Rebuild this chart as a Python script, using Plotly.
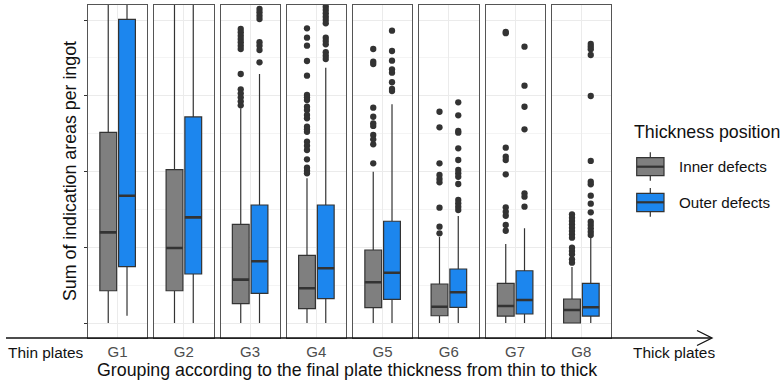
import plotly.graph_objects as go
from plotly.subplots import make_subplots

# ---------------- data ----------------
groups = ["G1", "G2", "G3", "G4", "G5", "G6", "G7", "G8"]
series_names = ["Inner defects", "Outer defects"]

inner_q1 = [42.6, 42.6, 25.5, 18.9, 20.2, 9.6, 9.2, 0.0]
inner_med = [119.7, 99.0, 57.2, 45.8, 53.7, 21.5, 22.4, 17.2]
inner_q3 = [251.7, 202.4, 130.3, 89.4, 96.4, 51.5, 52.4, 31.7]
inner_lo = [0.0, 0.0, 0.0, 0.0, 0.0, 0.0, 0.0, 0.0]
inner_hi = [520.0, 480.0, 283.4, 191.0, 199.7, 113.5, 104.3, 73.9]
inner_out = [
    [],
    [],
    [388.1, 383.8, 379.3, 374.9, 370.6, 366.1, 361.7, 328.7, 308.5, 303.2, 297.9, 292.7, 287.4],
    [389.0, 376.6, 366.1, 345.9, 326.5, 301.0, 297.9, 294.4, 285.5, 281.2, 274.6, 270.2,
     259.1, 255.7, 252.5, 239.3, 234.1, 228.4, 216.1, 205.0, 201.1, 197.6],
    [361.7, 345.0, 341.9, 284.2, 272.3, 263.6, 260.1, 248.2, 242.5, 235.9, 210.8],
    [278.9, 258.3, 210.8, 195.4, 190.1, 185.7, 152.2, 127.1, 118.4],
    [384.4, 382.6, 231.4, 219.5, 215.2, 196.3, 152.7, 146.9, 141.6, 129.4, 121.8],
    [143.5, 139.0, 134.7, 130.3, 125.8, 121.4, 117.1, 112.6, 99.4, 95.0, 90.7, 84.1, 79.6],
]

outer_q1 = [74.3, 64.7, 39.2, 32.1, 31.3, 20.7, 11.9, 9.2]
outer_med = [168.0, 139.5, 81.5, 72.2, 66.4, 40.5, 30.4, 20.7]
outer_q3 = [400.9, 272.0, 155.8, 155.8, 134.3, 71.3, 69.0, 52.4]
outer_lo = [9.6, 0.0, 0.0, 0.0, 0.0, 0.0, 0.0, 0.0]
outer_hi = [600.0, 560.0, 328.7, 337.0, 288.7, 141.3, 125.0, 113.9]
outer_out = [
    [],
    [],
    [414.5, 410.2, 405.7, 401.3, 370.6, 366.1, 360.4, 344.1],
    [417.6, 413.2, 408.8, 404.4, 400.0, 395.6, 376.6, 372.3, 367.9, 357.4, 352.9, 348.5],
    [385.9, 359.1, 346.3, 334.9, 330.4, 317.8, 308.9, 306.3],
    [291.3, 274.2, 253.5, 251.2, 230.6, 215.2, 202.0, 197.6, 193.1, 183.5, 162.4, 158.0,
     153.5, 149.2],
    [364.8, 313.3, 285.5, 255.7, 171.2, 166.7, 153.5],
    [368.3, 364.8, 361.3, 353.8, 299.7, 213.9, 186.5, 183.1, 168.1, 157.5, 146.1, 133.7,
     129.4, 125.0, 120.5, 116.2],
]

y_ticks = [0, 100, 200, 300, 400]

# ---------------- styling ----------------
FONT = "Liberation Sans, Arial, sans-serif"
fills = {"Inner defects": "#7F7F7F", "Outer defects": "#1C86EE"}
EDGE = "#333333"
offsets = {"Inner defects": -0.19, "Outer defects": 0.19}
BOX_W = 0.34

W, H = 784, 386
L, R, T, B = 88, 611, 5, 338  # plot area in pixels


def px(xp):
    return (xp - L) / (R - L)


def py(yp):
    return (B - yp) / (B - T)


fig = make_subplots(rows=1, cols=8, shared_yaxes=True,
                    horizontal_spacing=7.0 / (R - L))

stats = {
    "Inner defects": (inner_q1, inner_med, inner_q3, inner_lo, inner_hi, inner_out),
    "Outer defects": (outer_q1, outer_med, outer_q3, outer_lo, outer_hi, outer_out),
}

for i, g in enumerate(groups):
    col = i + 1
    for s in series_names:
        q1, med, q3, lo, hi, out = stats[s]
        xc = 1 + offsets[s]
        fig.add_trace(go.Box(
            x=[xc], q1=[q1[i]], median=[med[i]], q3=[q3[i]],
            lowerfence=[lo[i]], upperfence=[hi[i]],
            width=BOX_W, whiskerwidth=0, boxpoints=False,
            fillcolor=fills[s], line=dict(color=EDGE, width=1.2),
            name=s, showlegend=False, hoverinfo="skip",
        ), row=1, col=col)
        # thicker median line (ggplot style)
        fig.add_trace(go.Scatter(
            x=[xc - BOX_W / 2, xc + BOX_W / 2], y=[med[i], med[i]],
            mode="lines", line=dict(color=EDGE, width=2.6),
            showlegend=False, hoverinfo="skip",
        ), row=1, col=col)
        if out[i]:
            fig.add_trace(go.Scatter(
                x=[xc] * len(out[i]), y=out[i], mode="markers",
                marker=dict(color=EDGE, size=6.3),
                showlegend=False, hoverinfo="skip",
            ), row=1, col=col)

    fig.update_xaxes(
        range=[0.4, 1.6], tickvals=[1], ticktext=[g], ticks="",
        showgrid=True, gridcolor="#EBEBEB", gridwidth=1,
        showline=True, mirror=True, linecolor="#555555", linewidth=1.2,
        zeroline=False, tickfont=dict(family=FONT, size=15, color="#4D4D4D"),
        row=1, col=col,
    )
    fig.update_yaxes(
        range=[-19.8, 419.8], tickvals=y_ticks, showticklabels=False,
        showgrid=True, gridcolor="#EBEBEB", gridwidth=1,
        minor=dict(dtick=50, tick0=50, showgrid=True, gridcolor="#F4F4F4", gridwidth=0.6),
        showline=True, mirror=True, linecolor="#555555", linewidth=1.2,
        zeroline=False, ticks="outside" if col == 1 else "",
        ticklen=3, tickcolor="#333333", tickwidth=1,
        row=1, col=col,
    )

shapes = []
# horizontal arrow along bottom
shapes.append(dict(type="line", xref="paper", yref="paper",
                   x0=px(6), x1=px(711), y0=py(338), y1=py(338),
                   line=dict(color="#111111", width=1.3)))
shapes.append(dict(type="path", xref="paper", yref="paper",
                   path=f"M {px(697)} {py(330.5)} L {px(712)} {py(338)} L {px(697)} {py(345.5)}",
                   line=dict(color="#111111", width=1.3)))

# legend keys
legend_keys = [("Inner defects", 152.3, 157.7, 166.7, 175.7, 180.7),
               ("Outer defects", 188.0, 193.3, 202.3, 211.7, 216.7)]
for name, wt, bt, med_y, bb, wb in legend_keys:
    shapes.append(dict(type="line", xref="paper", yref="paper",
                       x0=px(650.3), x1=px(650.3), y0=py(wt), y1=py(bt),
                       line=dict(color=EDGE, width=1.2)))
    shapes.append(dict(type="line", xref="paper", yref="paper",
                       x0=px(650.3), x1=px(650.3), y0=py(bb), y1=py(wb),
                       line=dict(color=EDGE, width=1.2)))
    shapes.append(dict(type="rect", xref="paper", yref="paper",
                       x0=px(636.7), x1=px(664), y0=py(bb), y1=py(bt),
                       fillcolor=fills[name], line=dict(color=EDGE, width=1.2)))
    shapes.append(dict(type="line", xref="paper", yref="paper",
                       x0=px(636.7), x1=px(664), y0=py(med_y), y1=py(med_y),
                       line=dict(color=EDGE, width=2.2)))

annotations = [
    dict(text="Thin plates", x=px(5.5), y=py(352.5), xref="paper", yref="paper",
         xanchor="left", yanchor="middle", showarrow=False,
         font=dict(family=FONT, size=15.4, color="#111111")),
    dict(text="Thick plates", x=px(631), y=py(352), xref="paper", yref="paper",
         xanchor="left", yanchor="middle", showarrow=False,
         font=dict(family=FONT, size=15.4, color="#111111")),
    dict(text="Grouping according to the final plate thickness from thin to thick",
         x=px(346.5), y=py(370), xref="paper", yref="paper",
         xanchor="center", yanchor="middle", showarrow=False,
         font=dict(family=FONT, size=17.8, color="#111111")),
    dict(text="Sum of indication areas per ingot", x=px(70), y=py(171),
         xref="paper", yref="paper", xanchor="center", yanchor="middle",
         textangle=-90, showarrow=False,
         font=dict(family=FONT, size=17.8, color="#111111")),
    dict(text="Thickness position", x=px(632), y=py(131.7), xref="paper", yref="paper",
         xanchor="left", yanchor="middle", showarrow=False,
         font=dict(family=FONT, size=17.8, color="#111111")),
    dict(text="Inner defects", x=px(677), y=py(166.7), xref="paper", yref="paper",
         xanchor="left", yanchor="middle", showarrow=False,
         font=dict(family=FONT, size=15.2, color="#111111")),
    dict(text="Outer defects", x=px(677), y=py(202.3), xref="paper", yref="paper",
         xanchor="left", yanchor="middle", showarrow=False,
         font=dict(family=FONT, size=15.2, color="#111111")),
]

fig.update_layout(
    width=W, height=H,
    margin=dict(l=L, r=W - R, t=T, b=H - B, pad=0),
    paper_bgcolor="white", plot_bgcolor="white",
    showlegend=False, hovermode=False,
    shapes=shapes, annotations=annotations,
    font=dict(family=FONT),
)

fig.write_html("out.html", config={"displayModeBar": False})
